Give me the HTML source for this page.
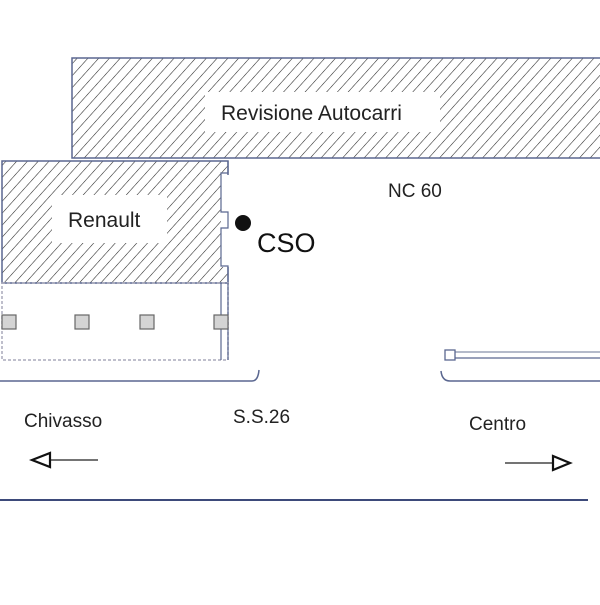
<!DOCTYPE html>
<html><head><style>body{margin:0;background:#fff}</style></head><body>
<svg width="600" height="600" xmlns="http://www.w3.org/2000/svg" font-family="Liberation Sans, sans-serif">
<defs>
<pattern id="h" width="8" height="8" patternUnits="userSpaceOnUse" patternTransform="rotate(42)">
<line x1="0" y1="0" x2="0" y2="8" stroke="#222" stroke-width="1.1"/>
</pattern>
</defs>
<rect x="0" y="0" width="600" height="600" fill="#fff"/>
<rect x="72" y="58" width="540" height="100" fill="url(#h)" stroke="#5a6790" stroke-width="1.5"/>
<rect x="205" y="92" width="235" height="40" fill="#fff"/>
<text x="221" y="120" font-size="21" fill="#222">Revisione Autocarri</text>
<rect x="2" y="161" width="226" height="122" fill="url(#h)" stroke="#5a6790" stroke-width="1.5"/>
<rect x="52" y="195" width="115" height="48" fill="#fff"/>
<text x="68" y="227" font-size="21" fill="#222">Renault</text>
<rect x="221" y="175" width="10" height="92" fill="#fff"/>
<path d="M228,161 V173 H221 V212 H228 V228 H221 V266 H228 V283" fill="none" stroke="#5a6790" stroke-width="1.2"/>
<rect x="2" y="283" width="226" height="77" fill="none" stroke="#aab" stroke-width="1.5" stroke-dasharray="3,2"/>
<line x1="221" y1="283" x2="221" y2="360" stroke="#5a6790" stroke-width="1.2"/>
<line x1="228" y1="283" x2="228" y2="360" stroke="#5a6790" stroke-width="1.2"/>
<g fill="#d4d4d4" stroke="#666" stroke-width="1.2">
<rect x="2" y="315" width="14" height="14"/><rect x="75" y="315" width="14" height="14"/>
<rect x="140" y="315" width="14" height="14"/><rect x="214" y="315" width="14" height="14"/>
</g>
<circle cx="243" cy="223" r="8" fill="#111"/>
<text x="257" y="252" font-size="27" fill="#111">CSO</text>
<text x="388" y="197" font-size="19" fill="#222">NC 60</text>
<path d="M0,381 H252 Q258,381 259,370" fill="none" stroke="#5a6790" stroke-width="1.5"/>
<path d="M441,371 Q442,381 450,381 H600" fill="none" stroke="#5a6790" stroke-width="1.5"/>
<line x1="455" y1="352" x2="600" y2="352" stroke="#8891ab" stroke-width="1.3"/>
<line x1="455" y1="358" x2="600" y2="358" stroke="#5a6790" stroke-width="1.3"/>
<rect x="445" y="350" width="10" height="10" fill="#fff" stroke="#5a6790" stroke-width="1.3"/>
<text x="24" y="427" font-size="19" fill="#222">Chivasso</text>
<text x="233" y="423" font-size="19" fill="#222">S.S.26</text>
<text x="469" y="430" font-size="19" fill="#222">Centro</text>
<line x1="50" y1="460" x2="98" y2="460" stroke="#222" stroke-width="1.2"/>
<path d="M32,460 L50,453 L50,467 Z" fill="#fff" stroke="#111" stroke-width="2.2"/>
<line x1="505" y1="463" x2="553" y2="463" stroke="#222" stroke-width="1.2"/>
<path d="M570,463 L553,456 L553,470 Z" fill="#fff" stroke="#111" stroke-width="2.2"/>
<line x1="0" y1="500" x2="588" y2="500" stroke="#3d4a7a" stroke-width="2"/>
</svg>
</body></html>
